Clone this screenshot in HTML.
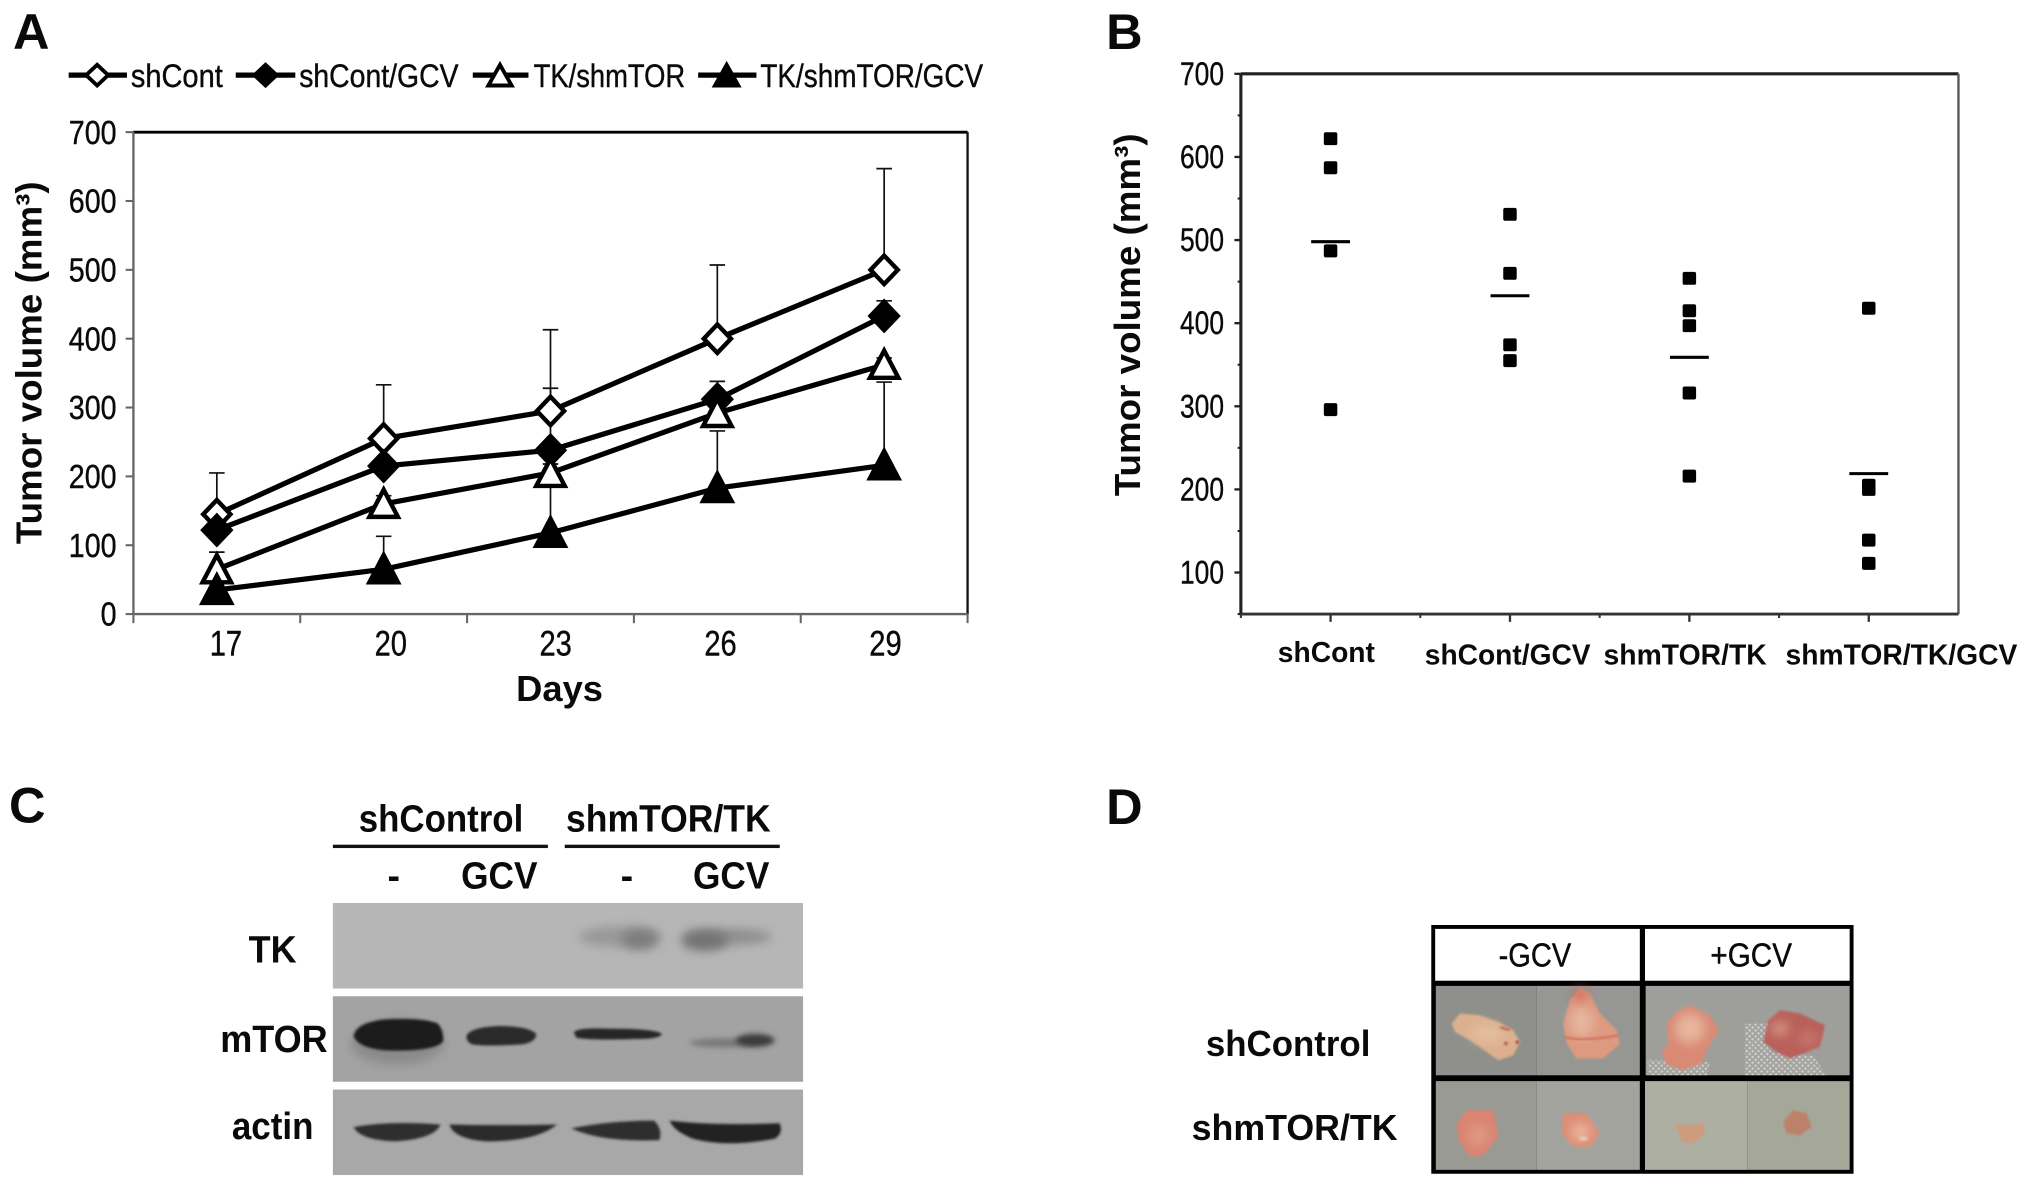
<!DOCTYPE html>
<html lang="en">
<head>
<meta charset="utf-8">
<title>Tumor volume figure</title>
<style>
html,body{margin:0;padding:0;background:#fff;width:2031px;height:1188px;overflow:hidden}
svg{display:block;position:absolute;left:0;top:0}
text{font-family:"Liberation Sans",sans-serif;fill:#0a0a0a}
.b{font-weight:bold}
.h{stroke:#0a0a0a;stroke-width:.3}
</style>
</head>
<body>
<svg id="fig" xmlns="http://www.w3.org/2000/svg" width="2031" height="1188" viewBox="0 0 1568 917" preserveAspectRatio="none">
<defs>
<filter id="b1" x="-30%" y="-60%" width="160%" height="220%"><feGaussianBlur stdDeviation="1"/></filter>
<filter id="b2" x="-30%" y="-80%" width="160%" height="260%"><feGaussianBlur stdDeviation="2"/></filter>
<filter id="b4" x="-30%" y="-100%" width="160%" height="300%"><feGaussianBlur stdDeviation="4"/></filter>
<filter id="z3" x="-30%" y="-30%" width="160%" height="160%"><feGaussianBlur stdDeviation="3.5"/></filter>
<filter id="z10" x="-60%" y="-60%" width="220%" height="220%"><feGaussianBlur stdDeviation="16"/></filter>
<pattern id="mesh" width="3.2" height="3.2" patternUnits="userSpaceOnUse" patternTransform="rotate(45)"><rect width="3.2" height="3.2" fill="#a5a6a2"/><rect width="1.7" height="1.7" fill="#dcdcda"/></pattern>
</defs>

<g>
<text class="b" x="10" y="38" font-size="39">A</text>
<text class="b" x="854" y="38" font-size="39">B</text>
<text class="b" x="7" y="635" font-size="39">C</text>
<text class="b" x="854" y="636" font-size="39">D</text>
</g>

<g id="panelA">
<text class="b" transform="translate(32,280) rotate(-90)" text-anchor="middle" font-size="28" textLength="280" lengthAdjust="spacingAndGlyphs">Tumor volume (mm³)</text>
<text class="b" x="432" y="541" text-anchor="middle" font-size="28" textLength="67" lengthAdjust="spacingAndGlyphs">Days</text>
</g>

<g id="panelB">
<text class="b" transform="translate(880,243) rotate(-90)" text-anchor="middle" font-size="28" textLength="280" lengthAdjust="spacingAndGlyphs">Tumor volume (mm³)</text>
</g>

<g id="panelC">
<text class="b" x="340.5" y="642" text-anchor="middle" font-size="29" textLength="127" lengthAdjust="spacingAndGlyphs">shControl</text>
<text class="b" x="516" y="642" text-anchor="middle" font-size="29" textLength="158" lengthAdjust="spacingAndGlyphs">shmTOR/TK</text>
<rect x="257" y="652" width="166" height="2.6" fill="#111"/>
<rect x="436" y="652" width="166" height="2.6" fill="#111"/>
<text class="b" x="304" y="686" text-anchor="middle" font-size="29">-</text>
<text class="b" x="385.5" y="686" text-anchor="middle" font-size="29" textLength="59" lengthAdjust="spacingAndGlyphs">GCV</text>
<text class="b" x="484" y="686" text-anchor="middle" font-size="29">-</text>
<text class="b" x="564.5" y="686" text-anchor="middle" font-size="29" textLength="59" lengthAdjust="spacingAndGlyphs">GCV</text>
<text class="b" x="210.5" y="743" text-anchor="middle" font-size="29" textLength="37" lengthAdjust="spacingAndGlyphs">TK</text>
<text class="b" x="211.5" y="812" text-anchor="middle" font-size="29" textLength="83" lengthAdjust="spacingAndGlyphs">mTOR</text>
<text class="b" x="210.5" y="879" text-anchor="middle" font-size="29" textLength="63" lengthAdjust="spacingAndGlyphs">actin</text>

<g>
<rect x="257" y="697" width="363" height="66" fill="#b6b6b6"/>
<ellipse cx="479" cy="723" rx="32" ry="8" fill="#989898" filter="url(#b4)"/>
<ellipse cx="494" cy="725" rx="14" ry="8" fill="#7e7e7e" filter="url(#b4)"/>
<ellipse cx="562" cy="723" rx="34" ry="6" fill="#8c8c8c" filter="url(#b4)"/>
<ellipse cx="544" cy="726" rx="18" ry="8" fill="#737373" filter="url(#b4)"/>
</g>
<g>
<rect x="257" y="769" width="363" height="66" fill="#a3a3a3"/>
<ellipse cx="307" cy="805" rx="36" ry="17" fill="#8a8a8a" filter="url(#b4)"/>
<path d="M273 800 Q274 790 295 787 Q325 785 338 790 Q343 796 342 804 Q336 811 305 811 Q278 811 273 800Z" fill="#1f1f1f" filter="url(#b1)"/>
<path d="M360 800 Q362 793 385 792 Q408 792 414 798 Q414 804 404 806 Q375 808 364 806 Q360 804 360 800Z" fill="#2a2a2a" filter="url(#b1)"/>
<path d="M443 797 Q445 793 470 794 Q505 794 511 798 Q510 802 490 802 Q455 803 445 801Z" fill="#252525" filter="url(#b1)"/>
<ellipse cx="560" cy="805" rx="28" ry="3.5" fill="#787878" filter="url(#b2)"/>
<ellipse cx="583" cy="803" rx="15" ry="5" fill="#3a3a3a" filter="url(#b2)"/>
</g>
<g>
<rect x="257" y="841" width="363" height="66" fill="#a8a8a8"/>
<path d="M273 870 Q300 865 340 868 Q336 879 305 881 Q278 880 273 870Z" fill="#2e2e2e" filter="url(#b1)"/>
<path d="M347 868 Q390 869 430 868 Q415 881 375 881 Q350 879 347 868Z" fill="#2c2c2c" filter="url(#b1)"/>
<path d="M441 871 Q470 865 505 865 Q512 872 509 880 Q465 882 441 871Z" fill="#2e2e2e" filter="url(#b1)"/>
<path d="M517 865 Q550 869 602 867 Q605 875 598 879 Q560 886 535 879 Q520 873 517 865Z" fill="#242424" filter="url(#b1)"/>
</g>
</g>

<g id="panelD">
<text class="b" x="994.5" y="815" text-anchor="middle" font-size="28" textLength="127" lengthAdjust="spacingAndGlyphs">shControl</text>
<text class="b" x="999.5" y="880" text-anchor="middle" font-size="28" textLength="159" lengthAdjust="spacingAndGlyphs">shmTOR/TK</text>
<rect x="1105" y="714" width="326" height="192" fill="#000"/>
<rect x="1108" y="717" width="158" height="40" fill="#fff"/>
<rect x="1270" y="717" width="158" height="40" fill="#fff"/>
<text class="h" x="1185" y="746" text-anchor="middle" font-size="26" textLength="56" lengthAdjust="spacingAndGlyphs">-GCV</text>
<text class="h" x="1352" y="746" text-anchor="middle" font-size="26" textLength="63" lengthAdjust="spacingAndGlyphs">+GCV</text>

<rect x="1108.5" y="761" width="78" height="69" fill="#8f908b"/>
<rect x="1186.5" y="761" width="79.5" height="69" fill="#969793"/>
<rect x="1270.5" y="761" width="157.5" height="69" fill="#9e9f9b"/>
<rect x="1108.5" y="834.5" width="78" height="68.5" fill="#999a92"/>
<rect x="1186.5" y="834.5" width="79.5" height="68.5" fill="#a3a39e"/>
<rect x="1270" y="834.5" width="79" height="68.5" fill="#adafa3"/>
<rect x="1349" y="834.5" width="79" height="68.5" fill="#a5a799"/>
<path d="M1347 790 L1366 790 L1368 830 L1347 830Z M1347 810 L1400 815 L1410 830 L1347 830Z" fill="url(#mesh)" opacity=".75"/>
<path d="M1272 818 L1320 820 L1318 830 L1272 830Z" fill="url(#mesh)" opacity=".75"/>

<g transform="translate(1104,756.6) scale(.2573)">
<g>
<polygon points="65,130 90,100 150,105 205,125 250,150 270,185 250,225 205,240 170,215 120,180 75,155" fill="#dcb08e" filter="url(#z3)"/>
<ellipse cx="170" cy="160" rx="50" ry="25" fill="#e6c6a8" filter="url(#z10)" opacity=".7"/>
<circle cx="228" cy="190" r="5" fill="#b5453c" filter="url(#z3)"/>
<circle cx="262" cy="186" r="5" fill="#a93c36" filter="url(#z3)"/>
<path d="M210 140 L240 150" stroke="#c46a55" stroke-width="8" filter="url(#z3)"/>
</g>
<g>
<polygon points="450,22 480,40 510,100 560,150 570,190 520,235 440,235 410,190 400,130 420,60" fill="#dd9a80" filter="url(#z3)"/>
<ellipse cx="455" cy="125" rx="35" ry="45" fill="#e8c0a8" filter="url(#z10)" opacity=".75"/>
<ellipse cx="450" cy="42" rx="22" ry="18" fill="#cf5a50" filter="url(#z10)" opacity=".8"/>
<path d="M405 172 Q470 185 565 165" fill="none" stroke="#cb5548" stroke-width="6" filter="url(#z3)" opacity=".7"/>
</g>
<g>
<polygon points="780,75 840,105 868,150 835,200 815,250 760,270 710,255 695,215 715,190 710,130 740,95" fill="#d98a74" filter="url(#z3)"/>
<ellipse cx="780" cy="145" rx="45" ry="45" fill="#ecc2a8" filter="url(#z10)" opacity=".75"/>
</g>
<g>
<polygon points="1050,90 1110,100 1185,135 1170,200 1080,235 1040,215 1000,185 1015,120" fill="#b9605a" filter="url(#z3)"/>
<ellipse cx="1050" cy="145" rx="26" ry="22" fill="#dfa590" filter="url(#z10)" opacity=".75"/>
<ellipse cx="1135" cy="175" rx="28" ry="20" fill="#cd8678" filter="url(#z10)" opacity=".7"/>
</g>
<g>
<polygon points="110,390 190,390 205,470 160,525 120,530 85,480 80,430" fill="#da8473" filter="url(#z3)"/>
<ellipse cx="145" cy="465" rx="32" ry="32" fill="#e3a58f" filter="url(#z10)" opacity=".6"/>
</g>
<g>
<polygon points="400,400 470,400 510,460 480,500 430,500 395,460" fill="#dd8c76" filter="url(#z3)"/>
<ellipse cx="452" cy="455" rx="30" ry="28" fill="#efc4aa" filter="url(#z10)" opacity=".7"/>
<ellipse cx="460" cy="475" rx="14" ry="6" fill="#f6e4d0" filter="url(#z3)" opacity=".6"/>
</g>
<g>
<polygon points="735,430 780,435 820,425 825,460 790,490 755,485" fill="#cd9c7c" filter="url(#z3)"/>
</g>
<g>
<polygon points="1090,390 1130,400 1145,440 1110,465 1070,460 1060,425" fill="#bd8068" filter="url(#z3)"/>
</g>
</g>
</g>

<script>
/* ---------- Panel A data ---------- */
const daysCategories = ["17", "20", "23", "26", "29"];
const volumeTicksA = [0, 100, 200, 300, 400, 500, 600, 700];
const shContValues = [145, 255, 295, 400, 500];
const shContErrTop = [205, 333, 413, 507, 647];
const shContGcvValues = [122, 215, 238, 312, 433];
const shContGcvErrTop = [150, 250, 328, 338, 455];
const tkShmtorValues = [65, 160, 205, 292, 362];
const tkShmtorErrTop = [90, 172, 218, 305, 372];
const tkShmtorGcvValues = [35, 65, 118, 183, 216];
const tkShmtorGcvErrTop = [50, 113, 195, 266, 337];
const seriesNamesA = ["shCont", "shCont/GCV", "TK/shmTOR", "TK/shmTOR/GCV"];

/* ---------- Panel B data ---------- */
const groupCategories = ["shCont", "shCont/GCV", "shmTOR/TK", "shmTOR/TK/GCV"];
const volumeTicksB = [100, 200, 300, 400, 500, 600, 700];
const shContPoints = [622, 587, 487, 296];
const shContGcvPoints = [531, 460, 374, 355];
const shmtorTkPoints = [454, 415, 397, 316, 216];
const shmtorTkGcvPoints = [418, 205, 200, 139, 111];
const groupMeans = [498, 433, 359, 219];

const NS = "http://www.w3.org/2000/svg";
function mk(parent, tag, attrs, txt) {
  const e = document.createElementNS(NS, tag);
  for (const k in attrs) e.setAttribute(k, attrs[k]);
  if (txt !== undefined) e.textContent = txt;
  parent.appendChild(e);
  return e;
}

/* ---------- Panel A ---------- */
const gA = document.getElementById("panelA");
const A = { l: 103, r: 747, t: 102, b: 474, max: 700 };
const xA = i => A.l + (A.r - A.l) * (i + 0.5) / daysCategories.length;
const yA = v => A.b - (A.b - A.t) * v / A.max;

function marker(parent, kind, cx, cy) {
  let m;
  const hollow = kind === 0 || kind === 2;
  const fill = hollow ? "#fff" : "#000";
  if (kind < 2) {
    m = mk(parent, "path", { d: `M${cx} ${cy - 11}L${cx + 10.5} ${cy}L${cx} ${cy + 11}L${cx - 10.5} ${cy}Z`, fill: fill, stroke: "#000", "stroke-width": 3.4 });
  } else {
    m = mk(parent, "path", { d: `M${cx} ${cy - 11}L${cx + 11} ${cy + 10}L${cx - 11} ${cy + 10}Z`, fill: fill, stroke: "#000", "stroke-width": 3.4, "stroke-linejoin": "miter" });
  }
  return m;
}

const topA = mk(gA, "line", { x1: A.l, x2: A.r, y1: A.t, y2: A.t, stroke: "#000", "stroke-width": 2.2 });


const rightA = mk(gA, "line", { x1: A.r, x2: A.r, y1: A.t, y2: A.b, stroke: "#111", "stroke-width": 1.8 });


const leftA = mk(gA, "line", { x1: A.l, x2: A.l, y1: A.t, y2: A.b, stroke: "#666", "stroke-width": 1.8 });


const bottomA = mk(gA, "line", { x1: A.l, x2: A.r, y1: A.b, y2: A.b, stroke: "#666", "stroke-width": 1.8 });



volumeTicksA.forEach(v => {
  const t = mk(gA, "line", { x1: A.l - 6, x2: A.l, y1: yA(v), y2: yA(v), stroke: "#666", "stroke-width": 1.6 });
  
  
  const s = String(v);
  const l = mk(gA, "text", { class: "h", x: 90, y: yA(v) + 9, "text-anchor": "end", "font-size": 26, textLength: 12.3 * s.length, lengthAdjust: "spacingAndGlyphs" }, s);
  
  
});
daysCategories.forEach((c, i) => {
  const edge = A.l + (A.r - A.l) * i / daysCategories.length;
  const t = mk(gA, "line", { x1: edge, x2: edge, y1: A.b, y2: A.b + 7, stroke: "#666", "stroke-width": 1.6 });
  
  
  const l = mk(gA, "text", { class: "h", x: xA(i) + 7 - i * 1.5, y: 506, "text-anchor": "middle", "font-size": 27, textLength: 25, lengthAdjust: "spacingAndGlyphs" }, c);
  
  
});
const lastEdge = mk(gA, "line", { x1: A.r, x2: A.r, y1: A.b, y2: A.b + 7, stroke: "#666", "stroke-width": 1.6 });



const seriesValuesA = [shContValues, shContGcvValues, tkShmtorValues, tkShmtorGcvValues];
const seriesErrA = [shContErrTop, shContGcvErrTop, tkShmtorErrTop, tkShmtorGcvErrTop];

seriesErrA.forEach((errs, s) => {
  errs.forEach((top, i) => {
    const bar = mk(gA, "path", { d: `M${xA(i)} ${yA(seriesValuesA[s][i])}V${yA(top)}M${xA(i) - 6} ${yA(top)}H${xA(i) + 6}`, fill: "none", stroke: "#111", "stroke-width": 1.3 });
    
    
  });
});
seriesValuesA.forEach((vals, s) => {
  const line = mk(gA, "polyline", { points: vals.map((v, i) => xA(i) + "," + yA(v)).join(" "), fill: "none", stroke: "#000", "stroke-width": 4, "stroke-linejoin": "round" });
  
  
});
seriesValuesA.forEach((vals, s) => {
  vals.forEach((v, i) => {
    const m = marker(gA, s, xA(i), yA(v));
    
    
  });
});

const legendLayout = [
  { x1: 53, x2: 98, mx: 75, tx: 101, tw: 71 },
  { x1: 182, x2: 228, mx: 205, tx: 231, tw: 123 },
  { x1: 365, x2: 408, mx: 386, tx: 412, tw: 117 },
  { x1: 539, x2: 584, mx: 561, tx: 587, tw: 172 }
];
seriesNamesA.forEach((name, s) => {
  const p = legendLayout[s];
  const ln = mk(gA, "line", { x1: p.x1, x2: p.x2, y1: 58, y2: 58, stroke: "#000", "stroke-width": 4 });
  
  
  const m = mk(gA, "path", s < 2
    ? { d: `M${p.mx} 50L${p.mx + 8.5} 58L${p.mx} 66L${p.mx - 8.5} 58Z`, fill: s === 0 ? "#fff" : "#000", stroke: "#000", "stroke-width": 3 }
    : { d: `M${p.mx} 50L${p.mx + 9} 66L${p.mx - 9} 66Z`, fill: s === 2 ? "#fff" : "#000", stroke: "#000", "stroke-width": 3 });
  
  
  const t = mk(gA, "text", { class: "h", x: p.tx, y: 67, "font-size": 25, textLength: p.tw, lengthAdjust: "spacingAndGlyphs" }, name);
  
  
});

/* ---------- Panel B ---------- */
const gB = document.getElementById("panelB");
const B = { l: 958, r: 1512, t: 57, b: 474, min: 50, max: 700 };
const xB = i => B.l + (B.r - B.l) * (i + 0.5) / groupCategories.length;
const yB = v => B.b - (B.b - B.t) * (v - B.min) / (B.max - B.min);

const topB = mk(gB, "line", { x1: B.l, x2: B.r, y1: B.t, y2: B.t, stroke: "#222", "stroke-width": 2.4 });


const rightB = mk(gB, "line", { x1: B.r, x2: B.r, y1: B.t, y2: B.b, stroke: "#555", "stroke-width": 1.8 });


const leftB = mk(gB, "line", { x1: B.l, x2: B.l, y1: B.t, y2: B.b, stroke: "#222", "stroke-width": 2.4 });


const bottomB = mk(gB, "line", { x1: B.l, x2: B.r, y1: B.b, y2: B.b, stroke: "#333", "stroke-width": 2.2 });



volumeTicksB.forEach(v => {
  const t = mk(gB, "line", { x1: B.l - 5, x2: B.l, y1: yB(v), y2: yB(v), stroke: "#222", "stroke-width": 1.8 });
  
  
  const l = mk(gB, "text", { class: "h", x: 945, y: yB(v) + 8.5, "text-anchor": "end", "font-size": 25, textLength: 34, lengthAdjust: "spacingAndGlyphs" }, String(v));
  
  
  const minor = mk(gB, "line", { x1: B.l - 2.5, x2: B.l, y1: yB(v - 50), y2: yB(v - 50), stroke: "#222", "stroke-width": 1.6 });
  
  
});

const labelCenterB = [1024, 1164, 1301, 1468];
const labelWidthB = [75, 128, 126, 179];
groupCategories.forEach((c, i) => {
  const center = mk(gB, "line", { x1: xB(i), x2: xB(i), y1: B.b, y2: B.b + 6, stroke: "#333", "stroke-width": 1.8 });
  
  
  const edge = B.l + (B.r - B.l) * i / groupCategories.length;
  const e = mk(gB, "line", { x1: edge, x2: edge, y1: B.b, y2: B.b + 3, stroke: "#333", "stroke-width": 1.6 });
  
  
  const l = mk(gB, "text", { class: "b", x: labelCenterB[i], y: i === 0 ? 511 : 513, "text-anchor": "middle", "font-size": 22, textLength: labelWidthB[i], lengthAdjust: "spacingAndGlyphs" }, c);
  
  
});

const groupPoints = [shContPoints, shContGcvPoints, shmtorTkPoints, shmtorTkGcvPoints];
groupPoints.forEach((pts, g) => {
  pts.forEach(v => {
    const p = mk(gB, "rect", { x: xB(g) - 5.2, y: yB(v) - 5, width: 10.4, height: 10, rx: 1.5, fill: "#000" });
    
    
  });
  const meanLine = mk(gB, "line", { x1: xB(g) - 15, x2: xB(g) + 15, y1: yB(groupMeans[g]), y2: yB(groupMeans[g]), stroke: "#000", "stroke-width": 2.4 });
  
  
});
</script>
</svg>
</body>
</html>
